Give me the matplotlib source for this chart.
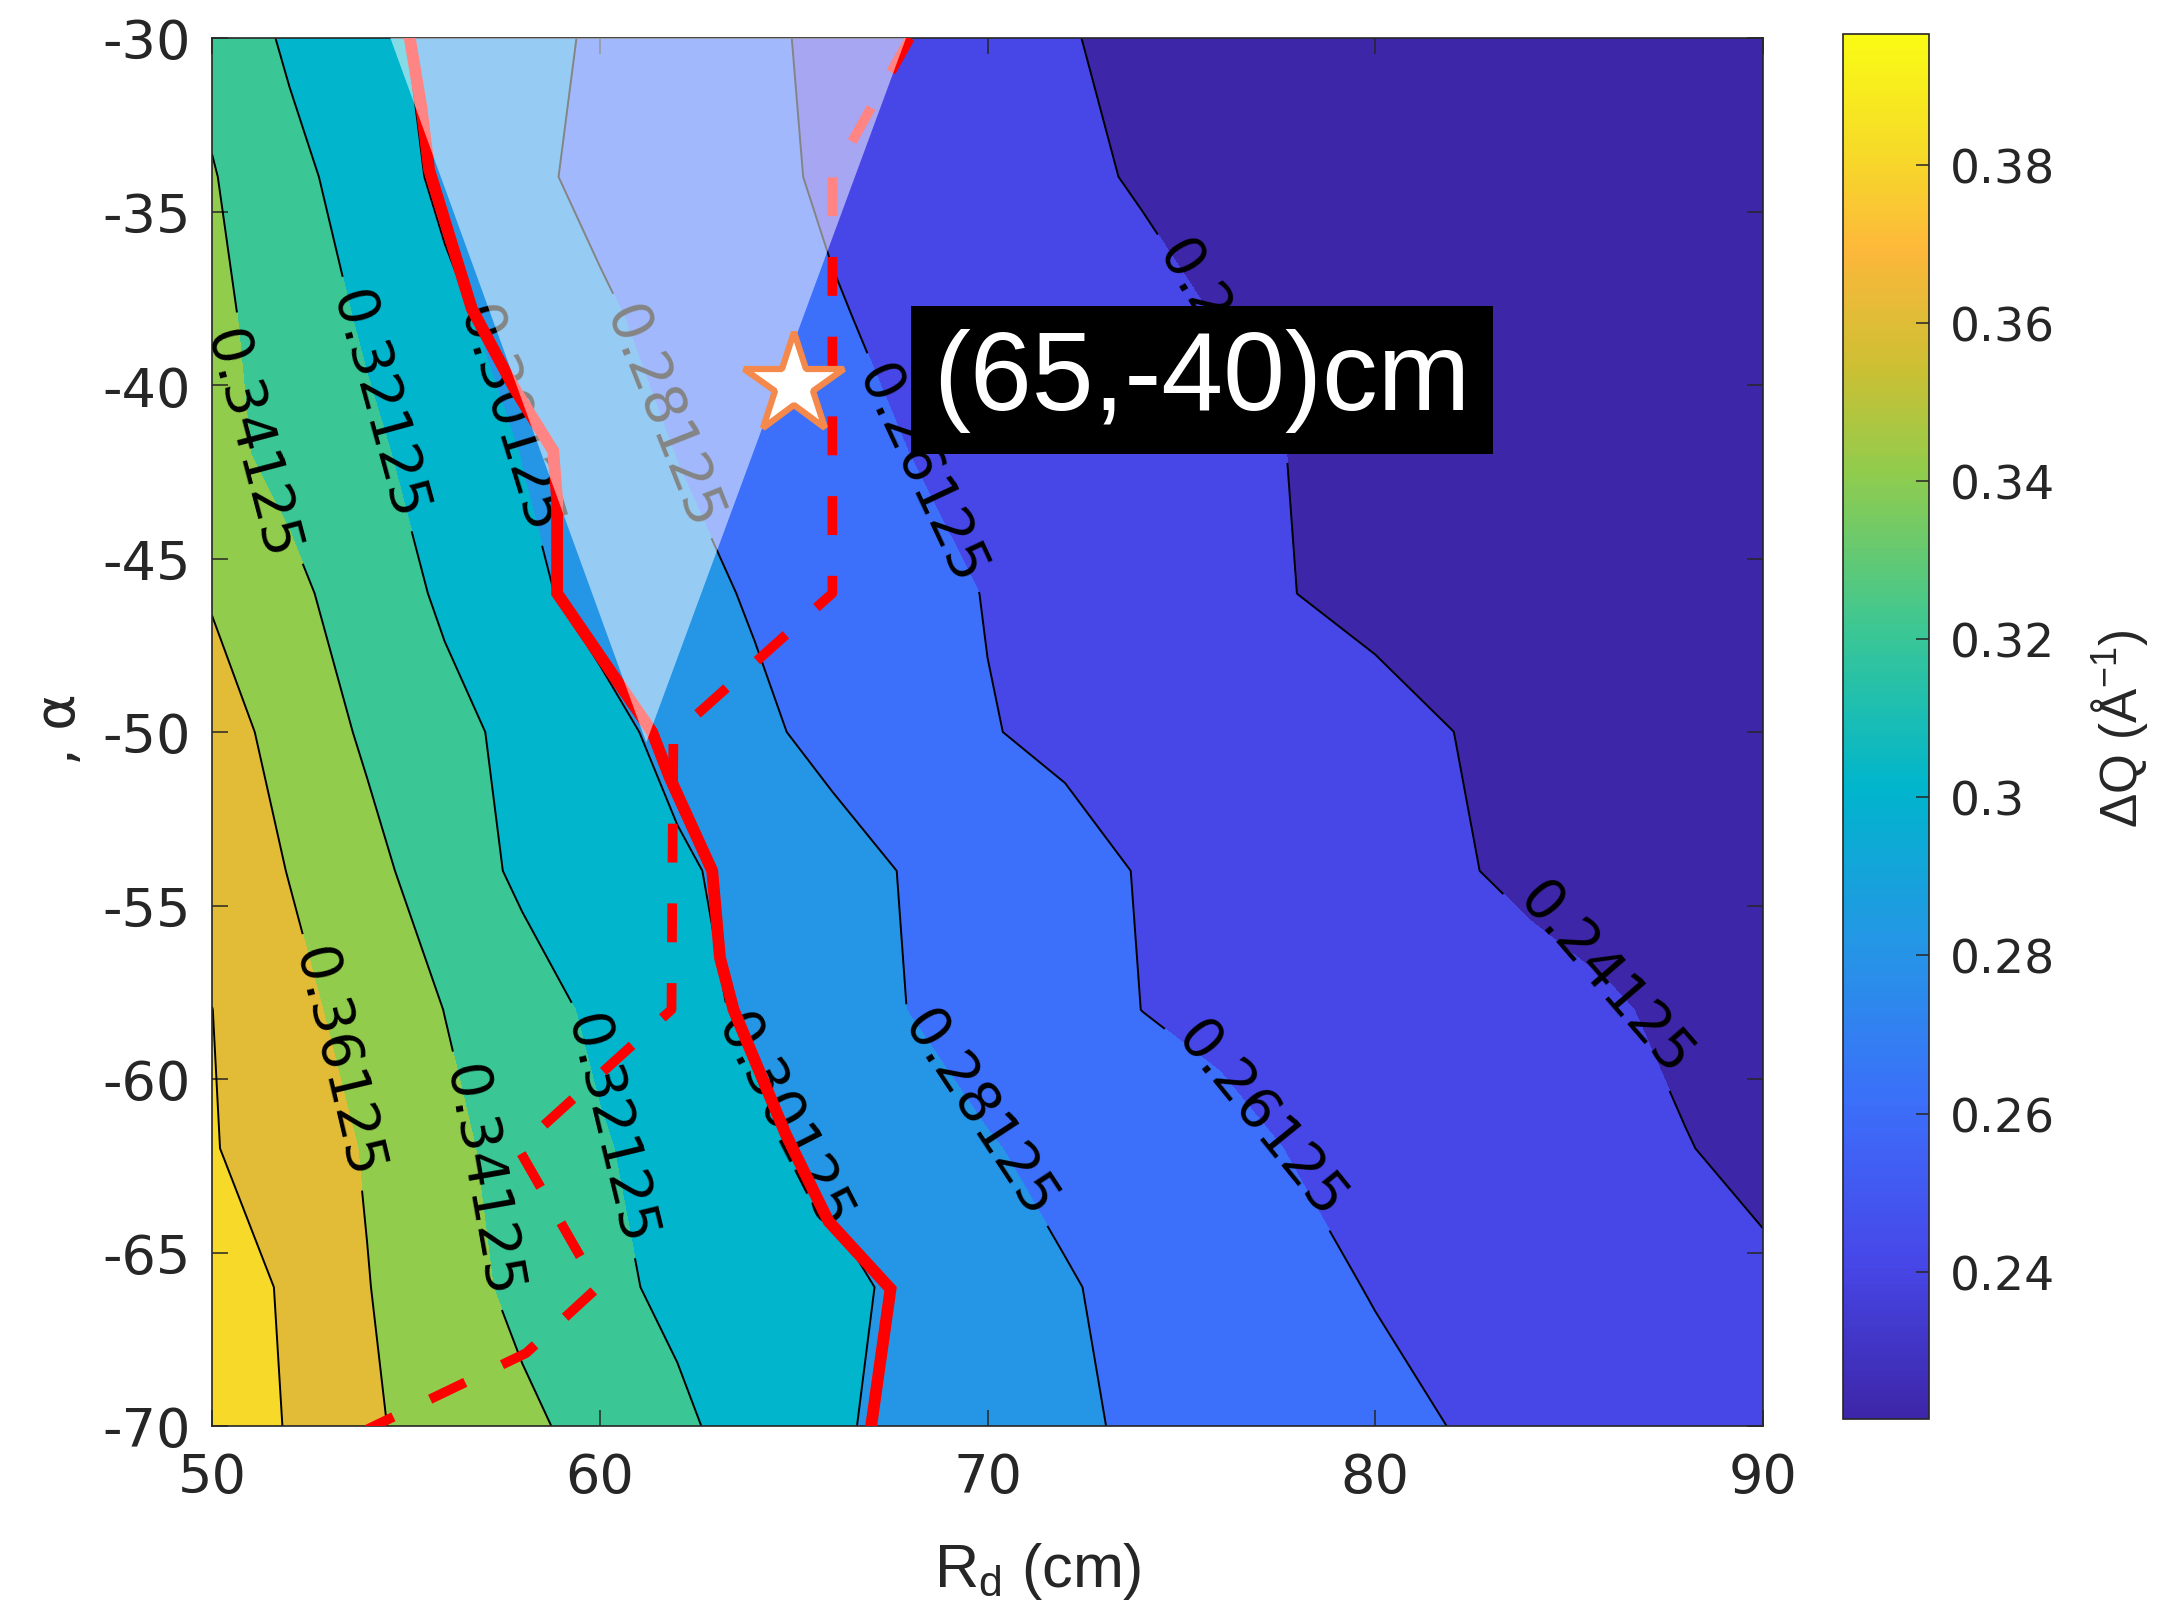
import numpy as np
import matplotlib
matplotlib.use("Agg")
import matplotlib.pyplot as plt
from matplotlib.colors import LinearSegmentedColormap, Normalize
from matplotlib.patches import Polygon
from matplotlib.cm import ScalarMappable

# ---- data -------------------------------------------------------------
RD_CM = [50, 52, 54, 56, 58, 60, 62, 64, 66, 68, 70,
         72, 74, 76, 78, 80, 82, 84, 86, 88, 90]
ALPHA_DEG = [-30, -34, -38, -42, -46, -50, -54, -58, -62, -66, -70]

# Delta Q (1/Angstrom), one row per angle in ALPHA_DEG, one column per RD_CM
DQ_ROW_M30 = [0.3354, 0.3181, 0.3065, 0.2963, 0.2872, 0.2787, 0.2714, 0.2642, 0.2580, 0.2526, 0.2472,
              0.2418, 0.2392, 0.2370, 0.2348, 0.2326, 0.2303, 0.2281, 0.2259, 0.2236, 0.2214]
DQ_ROW_M34 = [0.3424, 0.3270, 0.3118, 0.2975, 0.2850, 0.2770, 0.2709, 0.2648, 0.2591, 0.2540, 0.2489,
              0.2438, 0.2401, 0.2379, 0.2357, 0.2335, 0.2313, 0.2291, 0.2269, 0.2247, 0.2225]
DQ_ROW_M38 = [0.3457, 0.3321, 0.3186, 0.3053, 0.2940, 0.2836, 0.2760, 0.2693, 0.2624, 0.2578, 0.2534,
              0.2491, 0.2447, 0.2408, 0.2383, 0.2358, 0.2334, 0.2309, 0.2285, 0.2260, 0.2235]
DQ_ROW_M42 = [0.3467, 0.3358, 0.3250, 0.3131, 0.3008, 0.2908, 0.2809, 0.2744, 0.2678, 0.2612, 0.2571,
              0.2529, 0.2488, 0.2446, 0.2407, 0.2380, 0.2353, 0.2326, 0.2299, 0.2272, 0.2245]
DQ_ROW_M46 = [0.3595, 0.3457, 0.3319, 0.3183, 0.3053, 0.2955, 0.2871, 0.2794, 0.2731, 0.2668, 0.2606,
              0.2558, 0.2509, 0.2460, 0.2412, 0.2386, 0.2360, 0.2333, 0.2307, 0.2281, 0.2255]
DQ_ROW_M50 = [0.3704, 0.3538, 0.3384, 0.3268, 0.3162, 0.3066, 0.2961, 0.2847, 0.2763, 0.2691, 0.2620,
              0.2582, 0.2548, 0.2514, 0.2480, 0.2446, 0.2413, 0.2377, 0.2341, 0.2306, 0.2270]
DQ_ROW_M54 = [0.3741, 0.3606, 0.3470, 0.3310, 0.3180, 0.3109, 0.3038, 0.2959, 0.2878, 0.2799, 0.2732,
              0.2665, 0.2603, 0.2558, 0.2514, 0.2470, 0.2426, 0.2387, 0.2352, 0.2316, 0.2280]
DQ_ROW_M58 = [0.3814, 0.3670, 0.3536, 0.3410, 0.3290, 0.3177, 0.3074, 0.2978, 0.2893, 0.2809, 0.2741,
              0.2674, 0.2611, 0.2579, 0.2549, 0.2519, 0.2488, 0.2458, 0.2428, 0.2382, 0.2320]
DQ_ROW_M62 = [0.3824, 0.3713, 0.3599, 0.3461, 0.3340, 0.3229, 0.3140, 0.3055, 0.2975, 0.2899, 0.2824,
              0.2765, 0.2710, 0.2654, 0.2603, 0.2566, 0.2529, 0.2492, 0.2455, 0.2418, 0.2375]
DQ_ROW_M66 = [0.3941, 0.3780, 0.3619, 0.3489, 0.3367, 0.3255, 0.3174, 0.3112, 0.3050, 0.2981, 0.2904,
              0.2826, 0.2766, 0.2710, 0.2653, 0.2604, 0.2571, 0.2538, 0.2505, 0.2473, 0.2440]
DQ_ROW_M70 = [0.3965, 0.3797, 0.3639, 0.3536, 0.3450, 0.3350, 0.3245, 0.3140, 0.3035, 0.2964, 0.2902,
              0.2840, 0.2788, 0.2743, 0.2698, 0.2653, 0.2609, 0.2576, 0.2542, 0.2509, 0.2475]

CONTOUR_LEVELS = [0.24125, 0.26125, 0.28125, 0.30125, 0.32125, 0.34125, 0.36125, 0.38125]

# acceptance boundary (solid) and alternative boundary (dashed)
SOLID_RD = [55.1, 55.4, 55.6, 56.7, 57.8, 58.8, 58.9, 58.9, 61.35, 61.8, 62.9, 63.1, 63.45, 64.8, 65.9, 67.5, 67.0]
SOLID_ALPHA = [-30, -32, -33.8, -37.8, -40.1, -41.9, -43.3, -46, -50, -51.3, -54, -56.5, -58, -61.6, -64.1, -66.05, -70]
DASH_RD = [68.0, 66.0, 66.0, 61.9, 61.85, 57.9, 59.95, 58.1, 54.0]
DASH_ALPHA = [-30, -34, -46, -50.1, -58.0, -62.0, -66.0, -67.9, -70.1]

# shaded wedge
WEDGE_RD = [54.6, 67.9, 61.2]
WEDGE_ALPHA = [-30, -30, -50.3]

# selected working point
POINT_RD = 65
POINT_ALPHA = -40

# positions for inline contour labels
LABEL_POS = [(50.9, -41.7), (54.4, -40.5), (57.8, -40.9), (61.6, -40.9), (68.2, -42.6), (76.0, -39.0),
             (53.2, -59.5), (57.1, -62.9), (60.35, -61.4), (64.4, -61.4), (69.9, -60.9), (77.3, -60.9),
             (86.05, -56.9)]

# ---- colormap (parula-like) ------------------------------------------
PARULA = LinearSegmentedColormap.from_list("parula_like", [
    (0.000, (0.2422, 0.1504, 0.6603)),
    (0.113, (0.278, 0.278, 0.910)),
    (0.228, (0.235, 0.435, 0.980)),
    (0.342, (0.145, 0.588, 0.900)),
    (0.456, (0.000, 0.710, 0.800)),
    (0.571, (0.235, 0.780, 0.580)),
    (0.685, (0.570, 0.800, 0.300)),
    (0.760, (0.800, 0.750, 0.200)),
    (0.845, (0.990, 0.720, 0.230)),
    (0.913, (0.965, 0.850, 0.160)),
    (1.000, (0.976, 0.983, 0.080)),
])

plt.rcParams['font.family'] = ['DejaVu Sans']
plt.rcParams['axes.unicode_minus'] = False
TXT = '#262626'

X, Y = np.meshgrid(np.array(RD_CM, float), np.array(ALPHA_DEG, float))
Z = np.array([DQ_ROW_M30, DQ_ROW_M34, DQ_ROW_M38, DQ_ROW_M42, DQ_ROW_M46, DQ_ROW_M50,
              DQ_ROW_M54, DQ_ROW_M58, DQ_ROW_M62, DQ_ROW_M66, DQ_ROW_M70])

zmin, zmax = Z.min(), Z.max()
norm = Normalize(zmin, zmax)

fig = plt.figure(figsize=(21.76, 16.08), dpi=100)
ax = fig.add_axes([212 / 2176, 1 - 1427 / 1608, (1763 - 212) / 2176, (1427 - 39) / 1608])

# filled bands: each band coloured by its lower bound
fill_levels = [zmin - 1e-3] + CONTOUR_LEVELS + [zmax + 1e-3]
band_colors = [PARULA(norm(max(lv, zmin))) for lv in fill_levels[:-1]]
ax.contourf(X, Y, Z, levels=fill_levels, colors=band_colors, zorder=1)
cs = ax.contour(X, Y, Z, levels=CONTOUR_LEVELS, colors='k', linewidths=1.4, zorder=2)
labels = ax.clabel(cs, manual=LABEL_POS, inline=True, inline_spacing=14, fontsize=41, fmt='%g', colors='k')
for t in labels:
    t.set_zorder(2.6)

# boundaries
ax.plot(SOLID_RD, SOLID_ALPHA, color='red', lw=8.5, solid_joinstyle='miter', zorder=3)
ax.plot(DASH_RD, DASH_ALPHA, color='red', lw=7, dashes=(4.0, 4.2), zorder=3)

# translucent wedge over the map
ax.add_patch(Polygon(np.column_stack([WEDGE_RD, WEDGE_ALPHA]), closed=True,
                     facecolor='white', edgecolor='none', alpha=0.52, zorder=3.5))

# working point and its label
ax.plot([POINT_RD], [POINT_ALPHA], marker='*', ms=76, mfc='white', mec='#F4894B', mew=4.5, zorder=5)
ax.text(68.6, -39.85, f"({POINT_RD},{POINT_ALPHA})cm", color='white', fontsize=80,
        family='Liberation Sans', ha='left', va='center', zorder=6,
        bbox=dict(boxstyle='square,pad=0.2', facecolor='black', edgecolor='none'))

ax.set_xlim(50, 90)
ax.set_ylim(-70, -30)
ax.set_xticks([50, 60, 70, 80, 90])
ax.set_yticks([-70, -65, -60, -55, -50, -45, -40, -35, -30])
ax.tick_params(direction='in', length=11.5, width=1.1, top=True, right=True, colors=TXT,
               labelsize=39)
ax.tick_params(axis='y', pad=15)
ax.tick_params(axis='x', pad=18)
for s in ax.spines.values():
    s.set_color(TXT)
    s.set_linewidth(1.2)

fig.text(1038 / 2176, 1 - 1572 / 1608, r"R$_\mathregular{d}$ (cm)", fontsize=44,
         family='Liberation Sans', color=TXT, ha='center', va='center')
fig.text(60 / 2176, 1 - 729 / 1608, r", α", fontsize=40, rotation=90, color=TXT,
         ha='center', va='center')

# colorbar
cax = fig.add_axes([1843 / 2176, 1 - 1420 / 1608, (1929 - 1843) / 2176, (1420 - 35) / 1608])
cb = fig.colorbar(ScalarMappable(norm=norm, cmap=PARULA), cax=cax)
cb.set_ticks([0.24, 0.26, 0.28, 0.30, 0.32, 0.34, 0.36, 0.38])
cb.set_ticklabels(['0.24', '0.26', '0.28', '0.3', '0.32', '0.34', '0.36', '0.38'])
cax.tick_params(direction='in', length=9.5, width=1.1, colors=TXT, labelsize=34, pad=15)
cb.outline.set_edgecolor(TXT)
cb.outline.set_linewidth(1.2)
fig.text(2119 / 2176, 1 - 729 / 1608, r"ΔQ (Å$^{\mathregular{-1}}$)", fontsize=37, rotation=90,
         family='Liberation Sans', color=TXT, ha='center', va='center')

fig.savefig("out.png", dpi=100, facecolor='white')
